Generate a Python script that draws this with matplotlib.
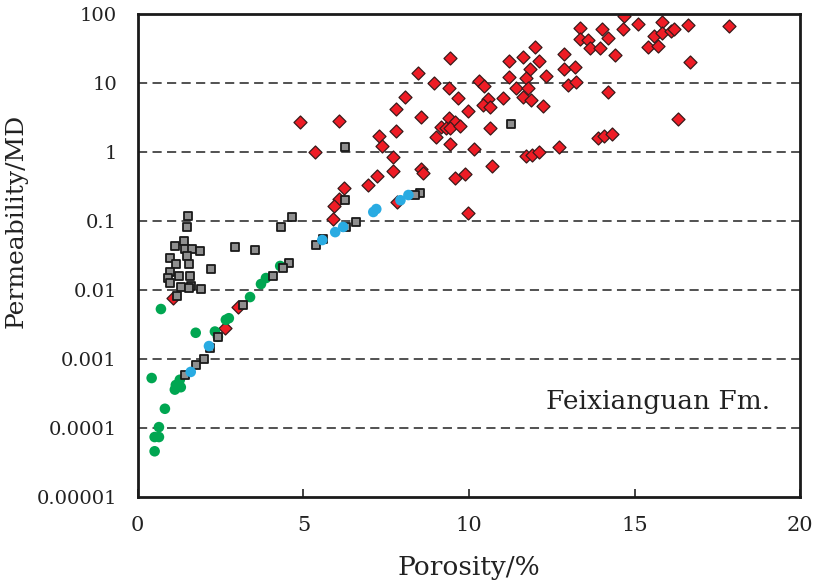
import matplotlib
matplotlib.use('Agg')
import matplotlib.pyplot as plt

# porosity (%) / permeability (mD)
red_poro = [9.44, 8.47, 8.93, 9.41, 9.68, 8.08, 9.98, 7.81, 8.56, 9.41, 9.59, 9.14, 9.29, 9.44,
            9.74, 8.99, 9.44, 10.14, 4.90, 6.08, 7.29, 7.38, 7.81, 5.36, 7.72, 7.69, 8.56, 8.62,
            7.23, 6.96, 9.59, 9.89, 6.23, 6.08, 5.93, 5.90, 9.98, 10.29, 10.44, 10.56, 10.41,
            10.62, 11.04, 10.62, 10.68, 11.20, 11.20, 11.62, 11.98, 12.10, 11.83, 11.71, 11.41,
            11.77, 11.62, 11.86, 12.22, 12.31, 12.86, 12.86, 13.19, 12.98, 13.22, 13.34, 13.34,
            13.59, 13.65, 13.95, 14.01, 14.19, 14.40, 14.19, 14.64, 14.67, 11.71, 11.89, 12.10,
            12.71, 13.89, 14.07, 14.31, 15.10, 15.82, 15.58, 15.82, 16.10, 16.19, 16.61, 15.40,
            15.70, 16.67, 17.85, 16.31, 1.06, 3.03, 2.63, 7.84]
red_perm = [23.0, 14.0, 10.0, 8.5, 6.1, 6.3, 3.9, 4.2, 3.2, 3.1, 2.7, 2.3, 2.2, 2.2,
            2.4, 1.65, 1.3, 1.1, 2.7, 2.8, 1.7, 1.22, 2.0, 1.0, 0.85, 0.53, 0.57, 0.50,
            0.45, 0.33, 0.42, 0.48, 0.30, 0.21, 0.165, 0.107, 0.13, 10.7, 9.0, 5.9, 4.8,
            4.5, 6.1, 2.2, 0.63, 20.8, 12.2, 23.8, 33.2, 20.8, 16.0, 11.8, 8.5,
            8.5, 6.3, 5.7, 4.6, 12.6, 26.3, 16.0, 17.1, 9.4, 10.3, 62.7, 43.4,
            42.0, 32.1, 32.1, 60.6, 44.9, 25.5, 7.4, 60.6, 93.5, 0.87, 0.91, 1.0,
            1.18, 1.6, 1.7, 1.8, 71.6, 76.6, 48.0, 53.0, 56.7, 60.6, 69.3, 33.2,
            34.4, 20.1, 67.0, 3.0, 0.0077, 0.0057, 0.0028, 0.19]

green_poro = [0.70, 1.75, 2.33, 2.42, 2.66, 2.75, 3.39, 3.72, 3.87, 4.30, 0.42, 1.15, 1.27,
              1.12, 1.30, 0.82, 0.64, 0.51, 0.64, 0.51]
green_perm = [0.0053, 0.0024, 0.0025, 0.0021, 0.0037, 0.0039, 0.0079, 0.0122, 0.0149, 0.0223,
              0.00053, 0.00042, 0.0005, 0.00036, 0.00039, 0.00019, 0.000103, 0.000074,
              0.000074, 0.000046]

gray_poro = [1.51, 1.48, 4.66, 4.33, 1.12, 1.39, 1.42, 1.63, 1.88, 1.48, 2.93, 3.54, 0.97,
             1.15, 1.54, 2.21, 0.97, 1.24, 1.57, 0.91, 0.97, 1.30, 1.60, 1.54, 1.91, 1.18,
             4.57, 4.39, 4.08, 3.18, 2.42, 2.18, 2.00, 1.75, 1.42, 5.39, 5.60, 6.29, 6.60,
             6.26, 6.26, 8.53, 8.38, 11.26]
gray_perm = [0.118, 0.082, 0.114, 0.082, 0.043, 0.051, 0.039, 0.039, 0.037, 0.031, 0.042,
             0.038, 0.029, 0.024, 0.024, 0.020, 0.018, 0.016, 0.016, 0.0149, 0.0126, 0.0110,
             0.0114, 0.0107, 0.0103, 0.0082, 0.0246, 0.0208, 0.016, 0.0061, 0.00208, 0.00144,
             0.001, 0.00082, 0.00059, 0.045, 0.055, 0.082, 0.097, 0.20, 1.18, 0.255, 0.238, 2.55]

blue_poro = [5.57, 5.96, 6.20, 7.20, 7.11, 7.93, 8.17, 2.15, 1.60]
blue_perm = [0.053, 0.069, 0.082, 0.149, 0.135, 0.20, 0.238, 0.00154, 0.00065]

y_ticks = [0.00001, 0.0001, 0.001, 0.01, 0.1, 1, 10, 100]
y_labels = ['0.00001', '0.0001', '0.001', '0.01', '0.1', '1', '10', '100']
x_ticks = [0, 5, 10, 15, 20]

plt.rcParams['font.family'] = ['DejaVu Serif']

fig = plt.figure(figsize=(8.15, 5.83), dpi=100)
ax = fig.add_axes([0.169, 0.1475, 0.813, 0.8285])

ax.scatter(red_poro, red_perm, marker='D', s=44, c='#ee1c25', edgecolors='#3a1a1a',
           linewidths=0.9, zorder=2)
ax.scatter(green_poro, green_perm, marker='o', s=58, c='#00a651', edgecolors='none', zorder=3)
ax.scatter(gray_poro, gray_perm, marker='s', s=40, c='#8f8f8f', edgecolors='#1a1a1a',
           linewidths=1.3, zorder=4)
ax.scatter(blue_poro, blue_perm, marker='o', s=58, c='#29abe2', edgecolors='none', zorder=5)

ax.set_yscale('log')
ax.set_xlim(0, 20)
ax.set_ylim(0.00001, 100)

for yv in y_ticks[1:-1]:
    ax.axhline(yv, color='#222222', lw=1.1, ls=(0, (6, 3.5)), zorder=1)

ax.set_xticks(x_ticks)
ax.set_yticks(y_ticks)
ax.set_yticklabels(y_labels)
ax.minorticks_off()
ax.tick_params(axis='x', direction='in', length=6, width=1.2, pad=14, labelsize=15,
               colors='#222222')
ax.tick_params(axis='y', length=0, pad=15, labelsize=14, colors='#222222')

for sp in ax.spines.values():
    sp.set_linewidth(2)
    sp.set_color('#1a1a1a')

ax.set_xlabel('Porosity/%', fontsize=19, color='#222222', labelpad=14)
ax.set_ylabel('Permeability/MD', fontsize=18, color='#222222')
ax.yaxis.set_label_coords(-0.166, 0.571)

ax.text(12.31, 0.00024, 'Feixianguan Fm.', fontsize=19, color='#222222',
        va='center', ha='left')

fig.savefig('out.png', dpi=100)
